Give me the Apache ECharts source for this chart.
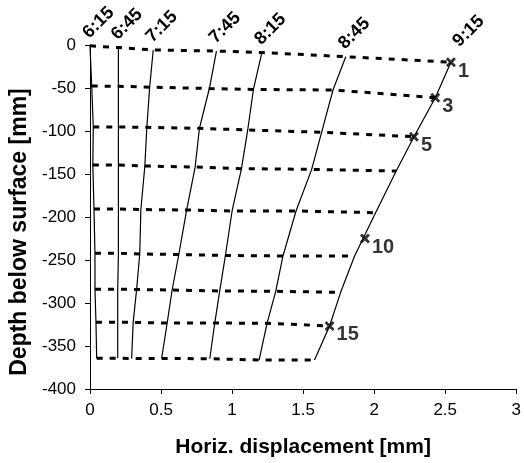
<!DOCTYPE html>
<html>
<head>
<meta charset="utf-8">
<script src="https://cdn.jsdelivr.net/npm/echarts@6/dist/echarts.min.js"></script>
<style>
  html, body { margin: 0; padding: 0; background: #fff; }
  #chart { width: 524px; height: 463px; }
</style>
</head>
<body>
<div id="chart"></div>
<script>
// profiles at each time, 9 gauge points from top to bottom
var times = ['6:15', '6:45', '7:15', '7:45', '8:15', '8:45', '9:15'];

var x615 = [0, 0.012, 0.023, 0.02, 0.028, 0.035, 0.035, 0.042, 0.047];
var d615 = [-1, -47.7, -95.3, -139.5, -190.7, -242.2, -284, -322.5, -364.3];
var x645 = [0.2, 0.2, 0.2, 0.2, 0.2, 0.2, 0.195, 0.195, 0.195];
var d645 = [-3, -48, -95.3, -139.5, -190.7, -242.2, -284, -322.5, -364.3];
var x715 = [0.445, 0.42, 0.4, 0.386, 0.358, 0.35, 0.328, 0.304, 0.293];
var d715 = [-5.8, -49, -95.7, -140.7, -191.3, -243, -284.3, -322.5, -364.5];
var x745 = [0.89, 0.84, 0.77, 0.74, 0.68, 0.625, 0.578, 0.543, 0.504];
var d745 = [-7, -50.6, -96.9, -141.9, -191.9, -243.6, -284.9, -323.3, -364.5];
var x815 = [1.21, 1.15, 1.11, 1.066, 1.0, 0.953, 0.913, 0.878, 0.843];
var d815 = [-8.7, -51.7, -98.8, -143.8, -193, -244.8, -286, -323.3, -364.8];
var x845 = [1.80, 1.71, 1.63, 1.56, 1.45, 1.358, 1.307, 1.246, 1.19];
var d845 = [-13.6, -52.3, -101.5, -144.6, -193, -245.3, -286.4, -323.6, -366.3];
var x915 = [2.54, 2.43, 2.28, 2.155, 2.01, 1.862, 1.764, 1.686, 1.58];
var d915 = [-20, -61.3, -106.6, -146.5, -195, -245.3, -287.6, -326.7, -366.3];

// numbered markers on the last profile
var markX = [2.54, 2.43, 2.28, 1.935, 1.686];
var markD = [-20, -61.3, -106.6, -225, -326.7];
var markNames = ['1', '3', '5', '10', '15'];

var xTicks = [0, 0.5, 1, 1.5, 2, 2.5, 3];
var yTicks = [0, -50, -100, -150, -200, -250, -300, -350, -400];

var font = 'Liberation Sans, Arial, sans-serif';
var allX = [x615, x645, x715, x745, x815, x845, x915];
var allD = [d615, d645, d715, d745, d815, d845, d915];

var series = [];

// solid lines, one per time; the time is written above the top point
allX.forEach(function(xs, t) {
	var pts = xs.map(function(v, i) { return [v, allD[t][i]]; });
	pts[0] = {
		value: pts[0],
		label: {
			show: true,
			formatter: times[t],
			position: 'top',
			distance: 2,
			offset: t === times.length - 1 ? [15, 1] : [3, 0],
			rotate: 45,
			align: 'left',
			verticalAlign: 'bottom',
			color: '#000',
			fontFamily: font,
			fontWeight: 'bold',
			fontSize: 18
		}
	};
	series.push({
		type: 'line',
		symbol: 'circle',
		symbolSize: 0,
		showSymbol: true,
		showAllSymbol: true,
		silent: true,
		itemStyle: { color: '#000' },
		lineStyle: { color: '#000', width: 1.2 },
		label: { show: false },
		data: pts
	});
});

// dotted lines, one per gauge across the times
for (var g = 0; g < x615.length; g++) {
	series.push({
		type: 'line',
		symbol: 'none',
		silent: true,
		lineStyle: { color: '#000', width: 3, type: [6, 7] },
		data: allX.map(function(xs, t) { return [xs[g], allD[t][g]]; })
	});
}

// x markers
series.push({
	type: 'scatter',
	symbol: 'path://M0,2 L2,0 L5,3 L8,0 L10,2 L7,5 L10,8 L8,10 L5,7 L2,10 L0,8 L3,5 Z',
	symbolSize: 10,
	silent: true,
	itemStyle: { color: '#000' },
	label: {
		show: true,
		position: [12, 4],
		align: 'left',
		verticalAlign: 'top',
		color: '#000',
		fontFamily: font,
		fontWeight: 'bold',
		fontSize: 20,
		formatter: function(p) { return markNames[p.dataIndex]; }
	},
	data: markX.map(function(v, i) { return [v, markD[i]]; })
});

var myChart = echarts.init(document.getElementById('chart'));

var option = {
	animation: false,
	backgroundColor: '#fff',
	grid: { left: 90, right: 7, top: 45, bottom: 74 },
	xAxis: {
		type: 'value',
		min: xTicks[0],
		max: xTicks[xTicks.length - 1],
		interval: 0.5,
		name: 'Horiz. displacement [mm]',
		nameLocation: 'middle',
		nameGap: 48,
		nameTextStyle: { color: '#000', fontFamily: font, fontWeight: 'bold', fontSize: 21 },
		axisLine: { onZero: false, lineStyle: { color: '#000', width: 1 } },
		axisTick: { show: true, length: 5, lineStyle: { color: '#000' } },
		axisLabel: { color: '#000', fontFamily: font, fontSize: 17, margin: 13 },
		splitLine: { show: false }
	},
	yAxis: {
		type: 'value',
		min: yTicks[yTicks.length - 1],
		max: yTicks[0],
		interval: 50,
		name: 'Depth below surface [mm]',
		nameLocation: 'middle',
		nameGap: 56,
		nameTextStyle: {
			color: '#000', fontFamily: font, fontWeight: 'bold', fontSize: 23,
			padding: [0, 30, 0, 0]
		},
		axisLine: { show: true, onZero: false, lineStyle: { color: '#000', width: 1 } },
		axisTick: { show: true, length: 5, lineStyle: { color: '#000' } },
		axisLabel: { color: '#000', fontFamily: font, fontSize: 17, margin: 14 },
		splitLine: { show: false }
	},
	series: series
};

myChart.setOption(option);
</script>
</body>
</html>
